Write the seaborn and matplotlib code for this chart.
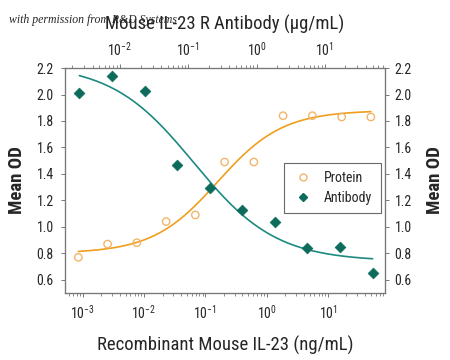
import numpy as np
import pandas as pd
import seaborn as sns
from matplotlib import pyplot as plt
from matplotlib.lines import Line2D

# data
protein_conc = [0.000847, 0.00254, 0.00762, 0.0229, 0.0686, 0.206, 0.617, 1.85, 5.56, 16.7, 50]  # ng/mL
protein_od = [0.77, 0.87, 0.88, 1.04, 1.09, 1.49, 1.49, 1.84, 1.84, 1.83, 1.83]
antibody_conc = [0.00254, 0.00762, 0.0229, 0.0686, 0.206, 0.617, 1.85, 5.56, 16.7, 50]  # ug/mL
antibody_od = [2.01, 2.14, 2.03, 1.47, 1.29, 1.13, 1.04, 0.84, 0.85, 0.65]

# 4PL fit parameters (low-conc value, high-conc value, log10 EC50, hill)
protein_fit = (0.80, 1.88, -0.80, 0.82)
antibody_fit = (2.23, 0.74, -0.92, 0.72)

sns.set_style("ticks")
fam = ['Roboto Condensed', 'Roboto', 'DejaVu Sans']
plt.rcParams['font.family'] = fam
plt.rcParams['mathtext.fontset'] = 'custom'
plt.rcParams['mathtext.rm'] = 'Roboto'
plt.rcParams['mathtext.it'] = 'Roboto'

orange_line = '#ef9e1e'
orange_mark = '#f2b56a'
teal_line = '#1c8a80'
teal_mark = '#0c6b5a'
spine_c = '#777777'

def fourpl(x, a, d, lec, h):
    return a + (d - a) / (1 + (10 ** lec / x) ** h)

fig = plt.figure(figsize=(4.5, 3.6), dpi=100)
ax = fig.add_axes([0.1444, 0.186, 0.7112, 0.625])
ax2 = ax.twiny()
ax3 = ax.twinx()

df_p = pd.DataFrame({'conc': protein_conc, 'od': protein_od})
df_a = pd.DataFrame({'conc': antibody_conc, 'od': antibody_od})

xp = np.logspace(np.log10(protein_conc[0]), np.log10(protein_conc[-1]), 200)
xa = np.logspace(np.log10(antibody_conc[0]), np.log10(antibody_conc[-1]), 200)
fit_p = pd.DataFrame({'conc': xp, 'od': fourpl(xp, *protein_fit)})
fit_a = pd.DataFrame({'conc': xa, 'od': fourpl(xa, *antibody_fit)})

sns.lineplot(data=fit_p, x='conc', y='od', ax=ax, color=orange_line, lw=1.2)
sns.scatterplot(data=df_p, x='conc', y='od', ax=ax, marker='o', s=28,
                facecolor='none', edgecolor=orange_mark, linewidth=1.0, zorder=3)
sns.lineplot(data=fit_a, x='conc', y='od', ax=ax2, color=teal_line, lw=1.2)
sns.scatterplot(data=df_a, x='conc', y='od', ax=ax2, marker='D', s=30,
                color=teal_mark, edgecolor=teal_mark, linewidth=0.5, zorder=3)

ax.set_xscale('log')
ax2.set_xscale('log')
ax.set_xlim(10 ** -3.29, 10 ** 1.93)
ax2.set_xlim(10 ** -2.805, 10 ** 1.88)
for a in (ax, ax2, ax3):
    a.set_ylim(0.5, 2.2)
yt = [0.6, 0.8, 1.0, 1.2, 1.4, 1.6, 1.8, 2.0, 2.2]
ax.set_yticks(yt)
ax.set_yticklabels([f'{v:.1f}' for v in yt])
ax3.set_yticks(yt)
ax3.set_yticklabels([f'{v:.1f}' for v in yt])
ax.set_xticks([1e-3, 1e-2, 1e-1, 1, 10])
ax2.set_xticks([1e-2, 1e-1, 1, 10])

ax.set_xlabel('Recombinant Mouse IL-23 (ng/mL)', fontsize=13.5, labelpad=10)
ax2.set_xlabel('Mouse IL-23 R Antibody (\u03bcg/mL)', fontsize=13.5, labelpad=8)
ax2.set_ylabel('')
ax.set_ylabel('Mean OD', fontsize=13.5, fontweight='bold', labelpad=8)
ax3.set_ylabel('Mean OD', fontsize=13.5, fontweight='bold', labelpad=10)

for a in (ax, ax2, ax3):
    for s in a.spines.values():
        s.set_visible(True)
        s.set_color(spine_c)
        s.set_linewidth(0.8)
    a.tick_params(which='major', length=3, width=0.7, color=spine_c, labelsize=10)
    a.tick_params(which='minor', length=2, width=0.6, color=spine_c)
ax.tick_params(axis='both', pad=5)
ax2.tick_params(axis='x', pad=4)
ax3.tick_params(axis='y', pad=4)
ax.grid(False)

handles = [
    Line2D([], [], ls='none', marker='o', mfc='none', mec=orange_mark, ms=5, label='Protein'),
    Line2D([], [], ls='none', marker='D', color=teal_mark, ms=4.5, label='Antibody'),
]
leg = ax3.legend(handles=handles, loc='upper left', bbox_to_anchor=(0.684, 0.578),
                 borderaxespad=0, frameon=True, fancybox=False, fontsize=10,
                 handletextpad=0.8, borderpad=0.6, labelspacing=0.4, handlelength=1.5)
leg.get_frame().set_edgecolor('#444444')
leg.get_frame().set_linewidth(0.8)

fig.text(0.02, 0.935, 'with permission from R&D Systems', fontsize=8.5,
         family=['Liberation Serif', 'DejaVu Serif'], style='italic', zorder=0)

fig.savefig('out.png', dpi=100)
